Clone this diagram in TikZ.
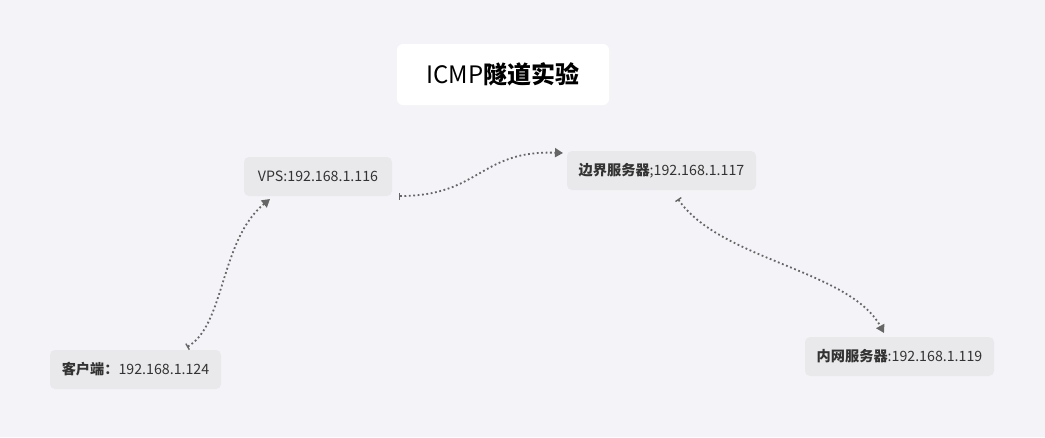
\documentclass[tikz,border=0pt]{standalone}
\usepackage{fontspec}
\setmainfont{Noto Sans CJK SC}
\usetikzlibrary{arrows.meta}
\definecolor{bg}{HTML}{F4F4F8}
\definecolor{boxfill}{HTML}{E9E9EB}
\definecolor{linec}{HTML}{666666}
\definecolor{txt}{HTML}{333333}
\tikzset{
  box/.style={fill=boxfill, rounded corners=5pt, inner sep=0pt, font=\fontsize{14.2}{16}\selectfont, text=txt},
  conn/.style={draw=linec, line width=1.8pt, dash pattern=on 1.8pt off 2.6pt,
    arrows={Bar[width=7pt,line width=1.4pt,sep=0pt]-Triangle[width=9pt,length=8pt,sep=0pt]}}
}
\begin{document}
\begin{tikzpicture}[x=1pt,y=-1pt]
\fill[bg] (0,0) rectangle (1045,437);
\useasboundingbox (0,0) rectangle (1045,437);
% title
\node[fill=white, rounded corners=6pt, minimum width=212pt, minimum height=61pt, inner sep=0pt,
  font=\fontsize{24}{28}\selectfont, text=black] (title) at (503,74.5) {ICMP\textbf{隧道实验}};
% nodes
\node[box, minimum width=148pt, minimum height=39pt] (vps) at (318,176.5) {VPS:192.168.1.116};
\node[box, minimum width=189pt, minimum height=39pt] (edge) at (661.5,170.5) {\textbf{边界服务器};192.168.1.117};
\node[box, minimum width=171pt, minimum height=39pt] (client) at (135.5,369.5) {\textbf{客户端：}192.168.1.124};
\node[box, minimum width=189pt, minimum height=39pt] (inner) at (899.5,356.5) {\textbf{内网服务器}:192.168.1.119};
% connector anchor points
\coordinate (c1s) at (187,347);
\coordinate (c1e) at (270,199);
\coordinate (c2s) at (399,196);
\coordinate (c2e) at (563,153);
\coordinate (c3s) at (678,199);
\coordinate (c3e) at (884,333);
\draw[conn] (c1s) .. controls (225,325) and (220,240) .. (c1e);
\draw[conn] (c2s) .. controls (480,196) and (480,150) .. (c2e);
\draw[conn] (c3s) .. controls (720,260) and (850,270) .. (c3e);
\end{tikzpicture}
\end{document}
